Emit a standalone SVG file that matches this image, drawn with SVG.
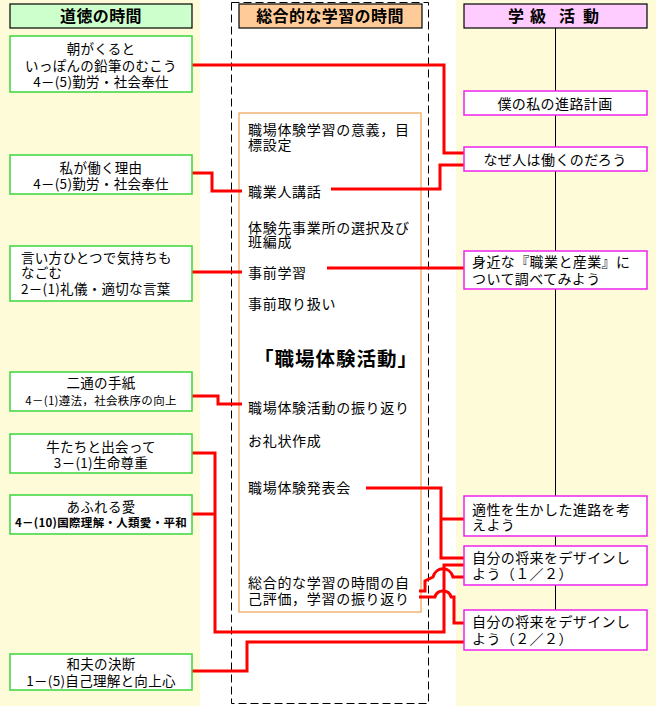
<svg xmlns="http://www.w3.org/2000/svg" width="656" height="706" viewBox="0 0 656 706">
<style>
text{font-family:"Noto Sans CJK JP","Noto Sans",sans-serif;fill:#000}
.hd{font-size:16px;font-weight:bold}
.lb{fill:#fff;stroke:#3ad63a;stroke-width:1.5}
.rb{fill:#fff;stroke:#ee22ee;stroke-width:1.5}
.lt{font-size:13.5px;letter-spacing:0.3px}
.ls{font-size:11.5px;letter-spacing:0.3px}
.rt{font-size:14px;letter-spacing:0.4px}
.mt{font-size:14px;letter-spacing:0.7px}
.red{fill:none;stroke:#ff0000;stroke-width:3;stroke-linejoin:miter}
</style>
<rect x="0" y="0" width="656" height="706" fill="#fff"/>
<rect x="0" y="0" width="200" height="706" fill="#fdfbd8"/>
<rect x="456" y="0" width="200" height="706" fill="#fdfbd8"/>
<rect x="231.5" y="2.5" width="197" height="701" fill="none" stroke="#000" stroke-width="1" stroke-dasharray="8,4"/>
<line x1="555.5" y1="28" x2="555.5" y2="610" stroke="#000" stroke-width="1"/>

<g id="hdr-left">
<rect x="10" y="4" width="182" height="24" fill="#ccffcc" stroke="#000" stroke-width="1.2"/>
<text class="hd" x="101" y="22" text-anchor="middle" letter-spacing="0.4">道徳の時間</text>
</g>
<g id="hdr-mid">
<rect x="239" y="4" width="183" height="24" fill="#ffcc99" stroke="#000" stroke-width="1.2"/>
<text class="hd" x="330" y="22" text-anchor="middle" letter-spacing="0.4">総合的な学習の時間</text>
</g>
<g id="hdr-right">
<rect x="464" y="4" width="183" height="24" fill="#ffccff" stroke="#000" stroke-width="1.2"/>
<text class="hd" x="508 524 530 546 559 575 583" y="22">学 級 活 動</text>
</g>

<g id="mid">
<rect x="239" y="113" width="182" height="499" fill="#fff" stroke="#f0a050" stroke-width="1.2"/>
<text class="mt" x="248" y="135">職場体験学習の意義，目</text>
<text class="mt" x="248" y="150">標設定</text>
<text class="mt" x="248" y="197">職業人講話</text>
<text class="mt" x="248" y="233">体験先事業所の選択及び</text>
<text class="mt" x="248" y="247">班編成</text>
<text class="mt" x="248" y="278">事前学習</text>
<text class="mt" x="248" y="309">事前取り扱い</text>
<text x="254" y="366" font-size="19.5" font-weight="bold" letter-spacing="1">「職場体験活動」</text>
<text class="mt" x="248" y="413">職場体験活動の振り返り</text>
<text class="mt" x="248" y="446">お礼状作成</text>
<text class="mt" x="248" y="493">職場体験発表会</text>
<text class="mt" x="248" y="588">総合的な学習の時間の自</text>
<text class="mt" x="248" y="604">己評価，学習の振り返り</text>
</g>

<g id="connectors">
<path class="red" d="M192,65 H444 V153 H464"/>
<path class="red" d="M192,173 H212 V191 H242"/>
<path class="red" d="M331,189 H440 V165 H464"/>
<path class="red" d="M192,272 H242"/>
<path class="red" d="M327,268 H464"/>
<path class="red" d="M192,396 H218 V404 H242"/>
<path class="red" d="M366,488 H441 V558 H464 M441,519 H464"/>
<path class="red" d="M192,453 H215 V632 H444 V565 H464 M192,514 H215"/>
<path class="red" d="M192,671 H247 V642 H464"/>
<path class="red" d="M419,591 H425 V581 L433,577 C436,566 450,566 453,577 H464"/>
<path class="red" d="M419,597 H435 C437,589 449,589 451,597 H454 V623 H464"/>
</g>

<g id="l1">
<rect class="lb" x="10" y="36" width="182" height="56"/>
<text class="lt" x="101" y="54" text-anchor="middle">朝がくると</text>
<text class="lt" x="101" y="70.5" text-anchor="middle">いっぽんの鉛筆のむこう</text>
<text class="lt" x="101" y="87" text-anchor="middle">4－(5)勤労・社会奉仕</text>
</g>
<g id="l2">
<rect class="lb" x="10" y="155" width="182" height="39"/>
<text class="lt" x="101" y="173" text-anchor="middle">私が働く理由</text>
<text class="lt" x="101" y="189" text-anchor="middle">4－(5)勤労・社会奉仕</text>
</g>
<g id="l3">
<rect class="lb" x="10" y="246" width="182" height="55"/>
<text class="lt" x="21" y="263">言い方ひとつで気持ちも</text>
<text class="lt" x="21" y="278">なごむ</text>
<text class="lt" x="21" y="294">2－(1)礼儀・適切な言葉</text>
</g>
<g id="l4">
<rect class="lb" x="10" y="372" width="182" height="39"/>
<text class="lt" x="101" y="388" text-anchor="middle">二通の手紙</text>
<text class="ls" x="101" y="405" text-anchor="middle">4－(1)遵法，社会秩序の向上</text>
</g>
<g id="l5">
<rect class="lb" x="10" y="434" width="182" height="39"/>
<text class="lt" x="101" y="452" text-anchor="middle">牛たちと出会って</text>
<text class="lt" x="101" y="468" text-anchor="middle">3－(1)生命尊重</text>
</g>
<g id="l6">
<rect class="lb" x="10" y="495" width="182" height="39"/>
<text class="lt" x="101" y="512" text-anchor="middle">あふれる愛</text>
<text class="ls" x="101" y="527" text-anchor="middle" font-weight="bold">4－(10)国際理解・人類愛・平和</text>
</g>
<g id="l7">
<rect class="lb" x="10" y="654" width="182" height="36"/>
<text class="lt" x="101" y="669" text-anchor="middle">和夫の決断</text>
<text class="lt" x="101" y="686" text-anchor="middle">1－(5)自己理解と向上心</text>
</g>

<g id="r1">
<rect class="rb" x="464" y="91" width="183" height="24"/>
<text class="rt" x="555" y="109" text-anchor="middle">僕の私の進路計画</text>
</g>
<g id="r2">
<rect class="rb" x="464" y="147" width="183" height="24"/>
<text class="rt" x="555" y="165" text-anchor="middle">なぜ人は働くのだろう</text>
</g>
<g id="r3">
<rect class="rb" x="464" y="251" width="183" height="38"/>
<text class="rt" x="472" y="267">身近な『職業と産業』に</text>
<text class="rt" x="472" y="284">ついて調べてみよう</text>
</g>
<g id="r4">
<rect class="rb" x="464" y="496" width="183" height="40"/>
<text class="rt" x="472" y="515">適性を生かした進路を考</text>
<text class="rt" x="472" y="530">えよう</text>
</g>
<g id="r5">
<rect class="rb" x="464" y="546" width="183" height="39"/>
<text class="rt" x="472" y="563">自分の将来をデザインし</text>
<text class="rt" x="472" y="579">よう（１／２）</text>
</g>
<g id="r6">
<rect class="rb" x="464" y="610" width="183" height="40"/>
<text class="rt" x="472" y="627">自分の将来をデザインし</text>
<text class="rt" x="472" y="644">よう（２／２）</text>
</g>
</svg>
